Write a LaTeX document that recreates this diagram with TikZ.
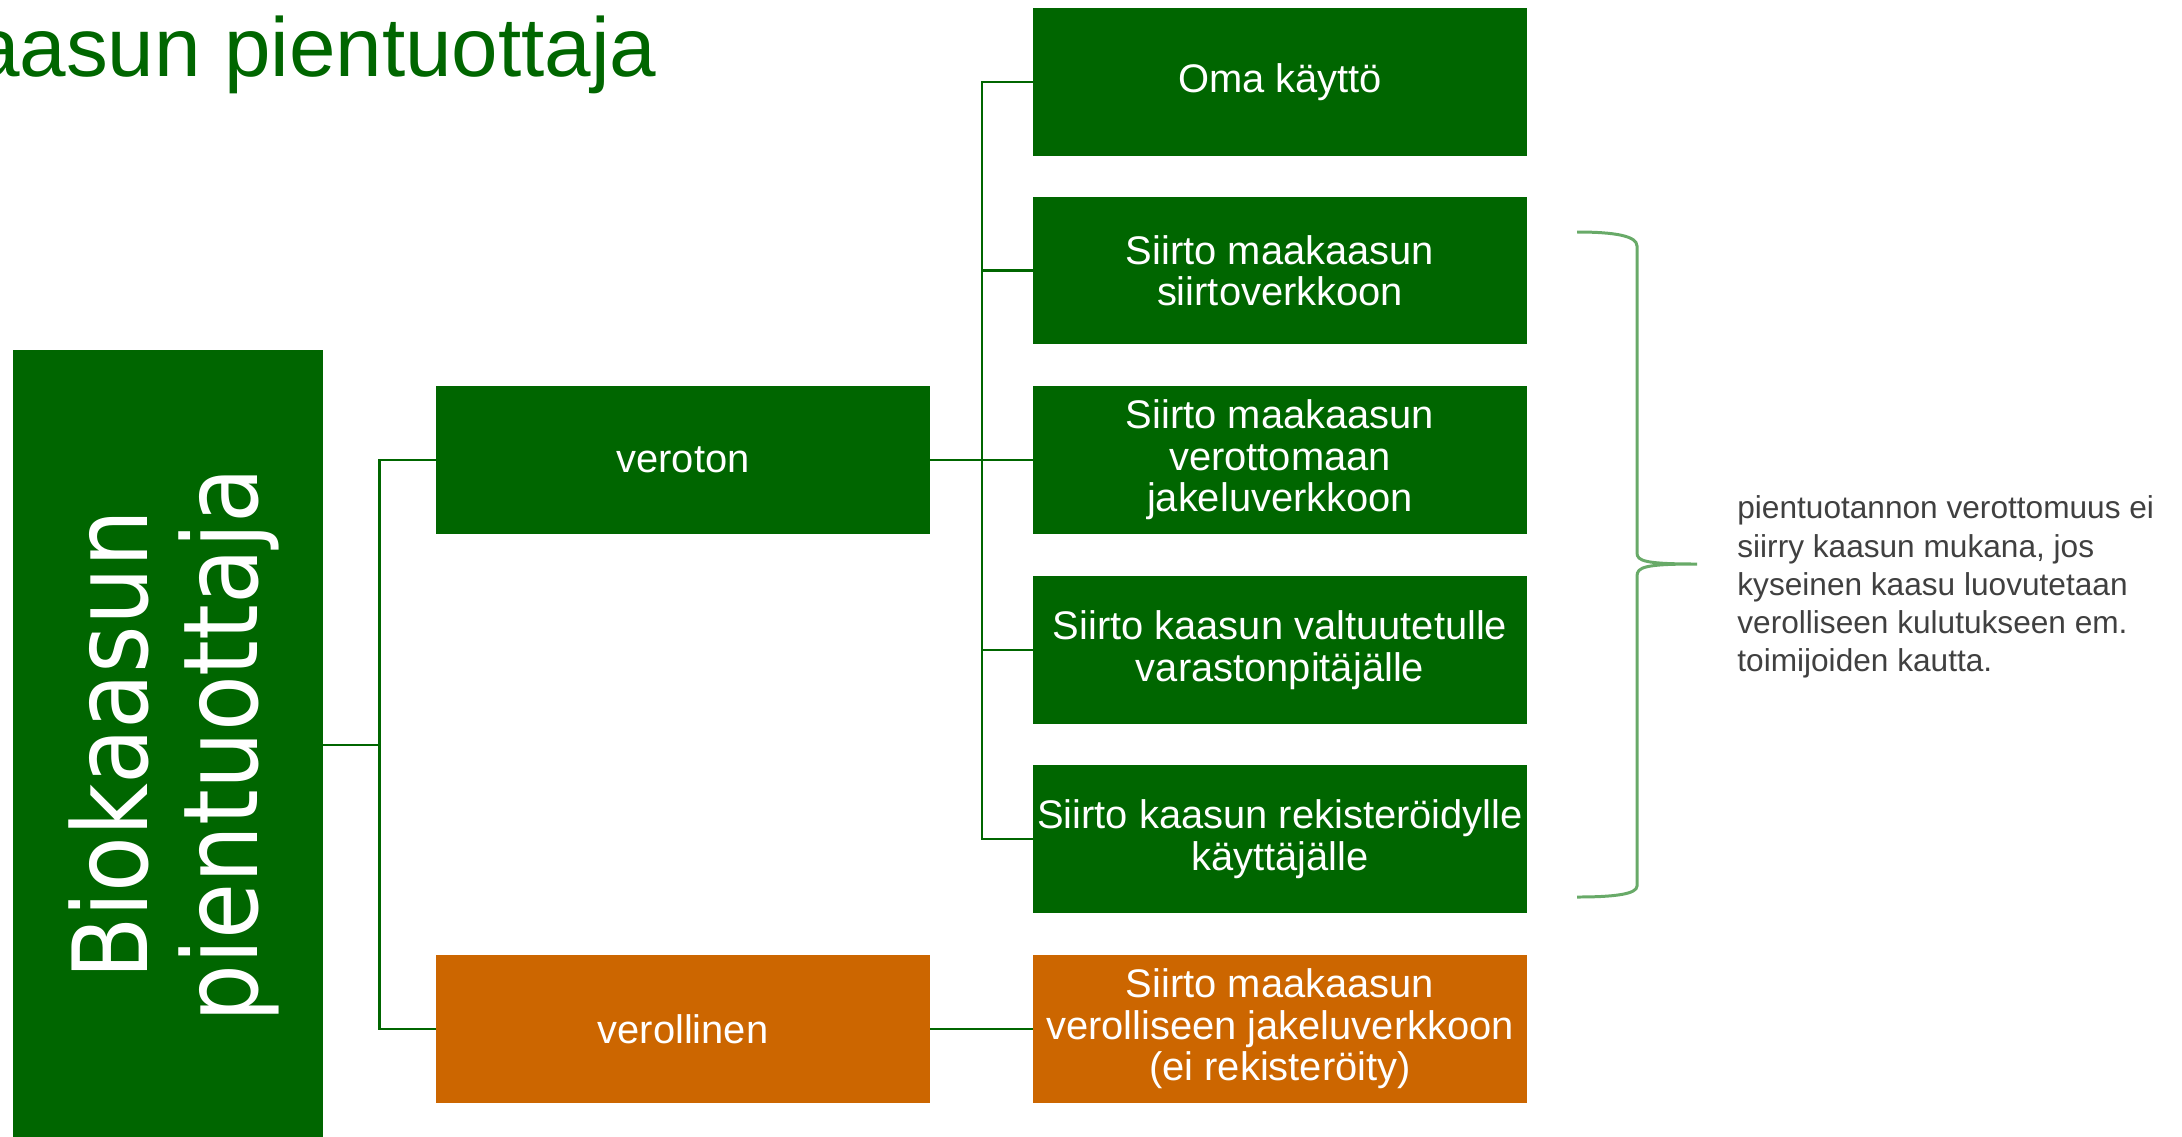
\documentclass[tikz,border=0pt]{standalone}
\usepackage{fontspec}
\setmainfont{Liberation Sans}
\newfontfamily\biofont[FakeStretch=0.88]{DejaVu Sans}
\usepackage{tikz}
\usetikzlibrary{positioning}
\definecolor{biogreen}{RGB}{0,102,0}
\definecolor{bioorange}{RGB}{204,102,0}
\definecolor{bracegreen}{RGB}{104,170,104}
\definecolor{notegray}{RGB}{64,64,64}

\begin{document}
\begin{tikzpicture}
    [x=0.02cm,y=-0.02cm,
     box/.style={shape=rectangle,fill=biogreen,text=white,align=center,inner sep=2pt,
                 minimum width=9.88cm,minimum height=2.96cm,font=\fontsize{22.7}{23.6}\selectfont},
     taxbox/.style={box,fill=bioorange},
     link/.style={draw=biogreen,line width=1.3pt}]
    \useasboundingbox (0,0) rectangle (2182,1136);
    \node [anchor=base east,inner sep=0,text=biogreen,font=\fontsize{47.6}{50}\selectfont] (title) at (657,76.5) {Biokaasun pientuottaja};
    \node [shape=rectangle,fill=biogreen,minimum width=6.2cm,minimum height=15.8cm,inner sep=0] (bio) at (168,745) {};
    \node [rotate=90,align=center,text=white,inner sep=0,font=\biofont\fontsize{59}{62.4}\selectfont] (biotxt) at (174,745) {Biokaasun\\pientuottaja};
    \node [box] (vero) at (683,460) {veroton};
    \node [taxbox] (verol) at (683,1029) {verollinen};
    \node [box] (oma) at (1280,82) {Oma käyttö};
    \node [box] (siirto) at (1280,270.5) {Siirto maakaasun\\siirtoverkkoon};
    \node [box] (jakelu) at (1280,460) {Siirto maakaasun\\verottomaan\\jakeluverkkoon};
    \node [box] (varasto) at (1280,650) {Siirto kaasun valtuutetulle\\varastonpitäjälle};
    \node [box] (kayttaja) at (1280,839) {Siirto kaasun rekisteröidylle\\käyttäjälle};
    \node [taxbox] (verjakelu) at (1280,1029) {Siirto maakaasun\\verolliseen jakeluverkkoon\\(ei rekisteröity)};
    \node [anchor=north west,align=left,inner sep=0,text=notegray,font=\fontsize{18}{21.8}\selectfont] (note) at (1737,495.5)
      {pientuotannon verottomuus ei\\siirry kaasun mukana, jos\\kyseinen kaasu luovutetaan\\verolliseen kulutukseen em.\\toimijoiden kautta.};
    % haarat
    \draw [link] (bio.east) -- (379.5,745) coordinate (j1);
    \draw [link] (j1) |- (vero.west);
    \draw [link] (j1) |- (verol.west);
    \draw [link] (vero.east) -- (982,460) coordinate (j2) -- (jakelu.west);
    \draw [link] (j2) |- (oma.west);
    \draw [link] (j2) |- (siirto.west);
    \draw [link] (j2) |- (varasto.west);
    \draw [link] (j2) |- (kayttaja.west);
    \draw [link] (verol.east) -- (verjakelu.west);
    % sulje
    \draw [bracegreen,line width=1.7pt]
      (1577,232) .. controls (1615,232) and (1637,236) .. (1637,246) -- (1637,553)
      .. controls (1637,561) and (1645,564) .. (1697,564)
      .. controls (1645,564) and (1637,567) .. (1637,576) -- (1637,886)
      .. controls (1637,894) and (1615,897) .. (1577,897);
\end{tikzpicture}
\end{document}
